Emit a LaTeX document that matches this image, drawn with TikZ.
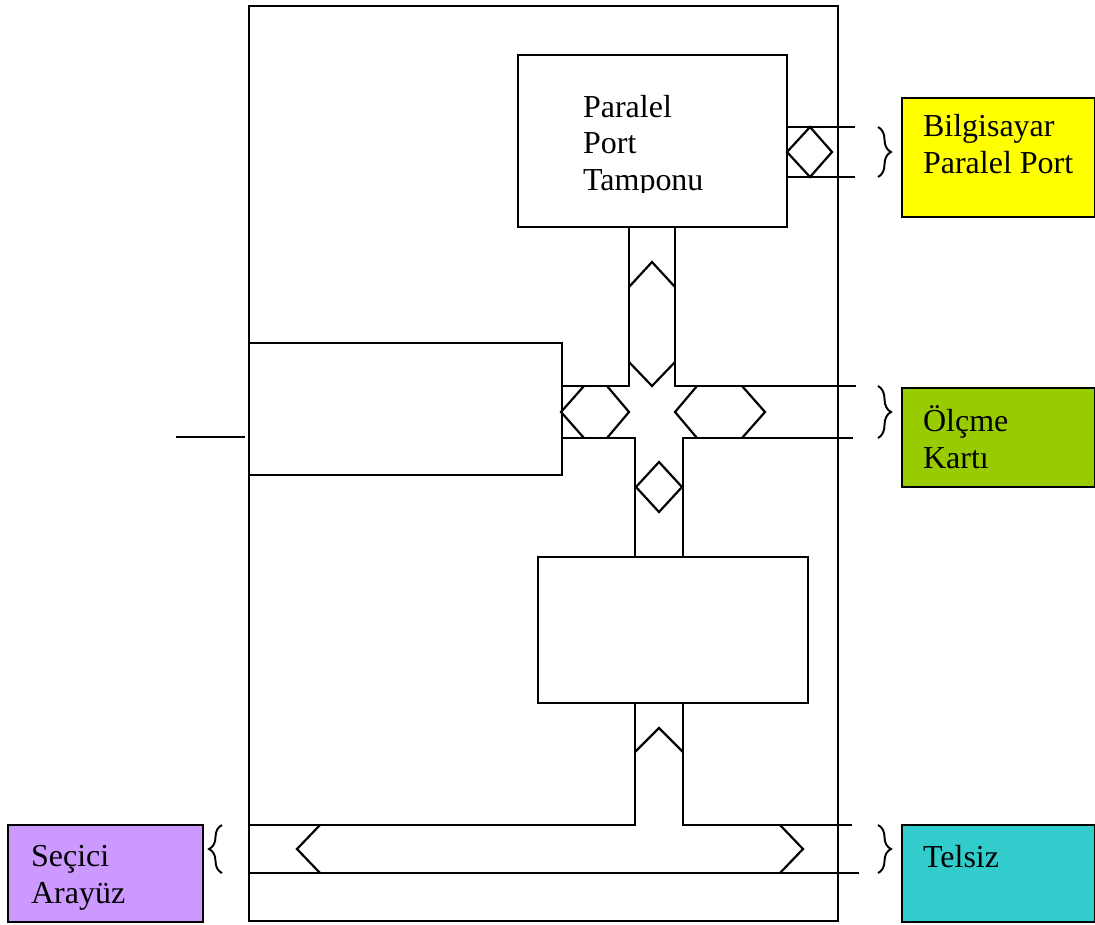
\documentclass[tikz,border=0pt]{standalone}
\usepackage{fontspec}
\setmainfont{Liberation Serif}
\usetikzlibrary{decorations.pathreplacing}
\definecolor{sari}{HTML}{FFFF00}
\definecolor{yesil}{HTML}{99CC00}
\definecolor{turkuaz}{HTML}{33CCCC}
\definecolor{mor}{HTML}{CC99FF}
\begin{document}
\begin{tikzpicture}[x=0.02cm, y=-0.02cm, line width=1.25pt,
    kutu/.style = {draw, rectangle, anchor=north west, inner sep=0pt},
    yazi/.style = {align=left, anchor=base west, inner sep=0pt, font=\fontsize{18.2}{20.6}\selectfont},
    kume/.style = {line width=1.1pt, decorate, decoration={brace, amplitude=0.26cm}}]
    \useasboundingbox (0,0) rectangle (1095,924);
    % kutular
    \node[kutu, minimum width=11.78cm, minimum height=18.3cm](dis) at (248,5) {};
    \node[kutu, minimum width=5.38cm, minimum height=3.44cm](tampon) at (517,54) {};
    \node[kutu, minimum width=6.26cm, minimum height=2.64cm](sol) at (248,342) {};
    \node[kutu, minimum width=5.4cm, minimum height=2.92cm](alt) at (537,556) {};
    \node[kutu, fill=sari, minimum width=3.86cm, minimum height=2.38cm](bilg) at (901,97) {};
    \node[kutu, fill=yesil, minimum width=3.86cm, minimum height=1.98cm](olcme) at (901,387) {};
    \node[kutu, fill=turkuaz, minimum width=3.86cm, minimum height=1.94cm](telsiz) at (901,824) {};
    \node[kutu, fill=mor, minimum width=3.9cm, minimum height=1.94cm](secici) at (7,824) {};
    % yazilar (son satirin tabani)
    \begin{scope}
        \clip (560,80) rectangle (760,192);
        \node[yazi](t1) at (582,190) {Paralel\\Port\\Tamponu};
    \end{scope}
    \node[yazi](t2) at (922,173) {Bilgisayar\\Paralel Port};
    \node[yazi](t3) at (922,468) {Ölçme\\Kartı};
    \node[yazi](t4) at (922,867) {Telsiz};
    \node[yazi](t5) at (30,903) {Seçici\\Arayüz};
    % ust port
    \draw (tampon.east |- 0,127) -- (855,127);
    \draw (tampon.east |- 0,177) -- (855,177);
    \draw (810,127) -- (832,152) -- (810,177) -- (787,152) -- cycle;
    \draw[kume] (878,127) -- (878,177);
    % orta yol
    \draw (629,226) -- (629,386) -- (561,386);
    \draw (675,226) -- (675,386) -- (856,386);
    \draw (561,438) -- (635,438) -- (635,556);
    \draw (853,438) -- (683,438) -- (683,556);
    \draw (629,287) -- (652,262) -- (675,287);
    \draw (629,362) -- (652,386) -- (675,362);
    \draw (584,386) -- (561,412) -- (584,438);
    \draw (607,386) -- (629,412) -- (607,438);
    \draw (697,386) -- (675,412) -- (697,438);
    \draw (742,386) -- (765,412) -- (742,438);
    \draw (659,462) -- (682,487) -- (659,512) -- (636,487) -- cycle;
    \draw[kume] (878,386) -- (878,438);
    % giris
    \coordinate (giris) at (176,437);
    \draw (giris) -- (245,437);
    % alt yol
    \draw (635,702) -- (635,825) -- (248,825);
    \draw (683,702) -- (683,825) -- (852,825);
    \draw (248,873) -- (859,873);
    \draw (635,752) -- (659,728) -- (683,752);
    \draw (320,825) -- (297,849) -- (320,873);
    \draw (780,825) -- (803,849) -- (780,873);
    \draw[kume] (878,825) -- (878,873);
    \draw[kume] (222,873) -- (222,825);
\end{tikzpicture}
\end{document}
